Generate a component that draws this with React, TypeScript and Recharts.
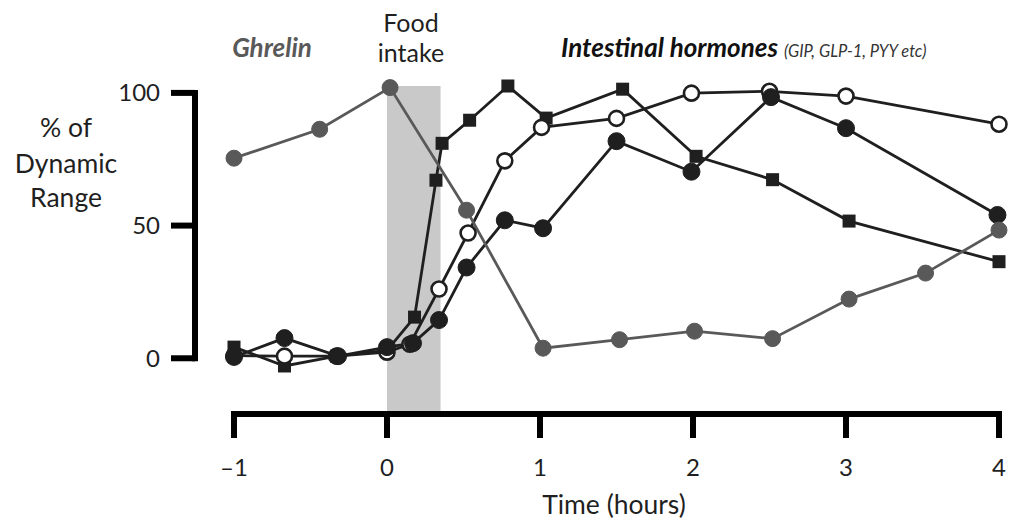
import { LineChart, Line, XAxis, YAxis, ReferenceArea, ReferenceLine, Customized } from 'recharts'

// time in hours relative to the meal, value in % of dynamic range
type Pt = { t: number; v: number }

const TIME_TICKS = [-1, 0, 1, 2, 3, 4]
const RANGE_TICKS = [0, 50, 100]
const FOOD_INTAKE: [number, number] = [0, 0.35]

const ghrelin: Pt[] = [
  { t: -1, v: 75.4 }, { t: -0.44, v: 86.3 }, { t: 0.02, v: 102 }, { t: 0.52, v: 55.8 },
  { t: 1.02, v: 3.8 }, { t: 1.52, v: 7.0 }, { t: 2.01, v: 10.2 }, { t: 2.52, v: 7.4 },
  { t: 3.02, v: 22.3 }, { t: 3.52, v: 32.1 }, { t: 4, v: 48.3 },
]

const squares: Pt[] = [
  { t: -1, v: 4.2 }, { t: -0.67, v: -2.9 }, { t: -0.33, v: 0.8 }, { t: 0, v: 3 },
  { t: 0.18, v: 15.5 }, { t: 0.32, v: 67.1 }, { t: 0.36, v: 81 }, { t: 0.54, v: 89.7 },
  { t: 0.79, v: 102.6 }, { t: 1.04, v: 90.5 }, { t: 1.54, v: 101.4 }, { t: 2.02, v: 76.1 },
  { t: 2.52, v: 67.3 }, { t: 3.02, v: 51.7 }, { t: 4, v: 36.4 },
]

const filled: Pt[] = [
  { t: -1, v: 0.5 }, { t: -0.67, v: 7.6 }, { t: -0.32, v: 0.8 }, { t: 0, v: 4.2 },
  { t: 0.17, v: 5.7 }, { t: 0.34, v: 14.4 }, { t: 0.52, v: 34.2 }, { t: 0.77, v: 52 },
  { t: 1.02, v: 49 }, { t: 1.5, v: 81.8 }, { t: 1.99, v: 70.3 }, { t: 2.51, v: 98.4 },
  { t: 3, v: 86.7 }, { t: 3.99, v: 54 },
]

const open: Pt[] = [
  { t: -1, v: 1 }, { t: -0.67, v: 0.8 }, { t: -0.33, v: 0.8 }, { t: 0, v: 2.3 },
  { t: 0.15, v: 5.3 }, { t: 0.34, v: 26.1 }, { t: 0.53, v: 47.2 }, { t: 0.77, v: 74.4 },
  { t: 1.01, v: 87 }, { t: 1.5, v: 90.4 }, { t: 1.99, v: 99.9 }, { t: 2.5, v: 100.6 },
  { t: 3, v: 98.8 }, { t: 4, v: 88.2 },
]

const INK = '#1f1f1f'
const GREY = '#595959'
const FONT = 'Lato, "Open Sans", sans-serif'

const W = 1011
const H = 522
const PAD_LEFT = 39 // gap between the y-axis line and the first time tick
const PX_PER_HOUR = 153
const AXIS_X = -1 - PAD_LEFT / PX_PER_HOUR
const LINE_W = 2.8

function SquareDot(props: { cx?: number; cy?: number; index?: number }) {
  const { cx, cy } = props
  if (cx == null || cy == null) return <g />
  return <rect x={cx - 6.5} y={cy - 6.5} width={13} height={13} fill={INK} />
}

function Annotations() {
  return (
    <g fontFamily={FONT}>
      <text x={272} y={57} textAnchor="middle" fontSize={26} fontWeight={700} fontStyle="italic" fill={GREY}>
        Ghrelin
      </text>
      <text x={411} textAnchor="middle" fontSize={25} fill={INK}>
        <tspan x={411} y={32}>Food</tspan>
        <tspan x={411} y={62}>intake</tspan>
      </text>
      <text x={561} y={57} fontSize={26} fontWeight={700} fontStyle="italic" fill="#111">
        Intestinal hormones
        <tspan dx={6} fontSize={16.5} fontWeight={400} fill="#333">(GIP, GLP-1, PYY etc)</tspan>
      </text>
      <text x={66} textAnchor="middle" fontSize={26.5} fill={INK}>
        <tspan x={66} y={137}>% of</tspan>
        <tspan x={66} y={173}>Dynamic</tspan>
        <tspan x={66} y={207}>Range</tspan>
      </text>
      <text x={614} y={514} textAnchor="middle" fontSize={26.5} fill={INK}>
        Time (hours)
      </text>
    </g>
  )
}

export default function App() {
  const tick = { fontSize: 24, fill: INK, fontFamily: FONT }
  return (
    <div style={{ position: 'absolute', left: 0, top: 0, width: W, height: H, background: '#fff' }}>
      <LineChart width={W} height={H} margin={{ top: 86, right: 12, bottom: 0, left: 0 }}>
        <XAxis
          type="number" dataKey="t" domain={[-1, 4]} ticks={TIME_TICKS} interval={0}
          padding={{ left: PAD_LEFT, right: 0 }} allowDuplicatedCategory={false}
          axisLine={false} tickLine={{ stroke: '#000', strokeWidth: 6 }}
          tickSize={24} tickMargin={21} height={108} tick={tick}
          tickFormatter={(t: number) => (t < 0 ? `–${-t}` : String(t))}
        />
        <YAxis
          type="number" domain={[-21, 102.6]} ticks={RANGE_TICKS} interval={0} width={195}
          axisLine={false} tickLine={{ stroke: '#000', strokeWidth: 6 }}
          tickSize={24} tickMargin={11} tick={tick}
        />
        <ReferenceArea x1={FOOD_INTAKE[0]} x2={FOOD_INTAKE[1]} fill="#c9c9c9" fillOpacity={1} stroke="none" />
        {/* split axes: y line covers 0–100 only, x line runs tick to tick */}
        <ReferenceLine
          segment={[{ x: AXIS_X, y: -1.13 }, { x: AXIS_X, y: 101.13 }]}
          stroke="#000" strokeWidth={6} ifOverflow="visible"
        />
        <ReferenceLine
          segment={[{ x: -1 - 3 / PX_PER_HOUR, y: -21 }, { x: 4 + 3 / PX_PER_HOUR, y: -21 }]}
          stroke="#000" strokeWidth={6} ifOverflow="visible"
        />
        <Line
          data={squares} dataKey="v" type="linear" stroke={INK} strokeWidth={LINE_W}
          dot={SquareDot} activeDot={false} isAnimationActive={false}
        />
        <Line
          data={open} dataKey="v" type="linear" stroke={INK} strokeWidth={LINE_W}
          dot={{ r: 7.5, fill: '#fff', stroke: INK, strokeWidth: 2.6 }} activeDot={false} isAnimationActive={false}
        />
        <Line
          data={filled} dataKey="v" type="linear" stroke={INK} strokeWidth={LINE_W}
          dot={{ r: 8.5, fill: INK, stroke: INK, strokeWidth: 1 }} activeDot={false} isAnimationActive={false}
        />
        <Line
          data={ghrelin} dataKey="v" type="linear" stroke={GREY} strokeWidth={LINE_W}
          dot={{ r: 8, fill: GREY, stroke: GREY, strokeWidth: 1 }} activeDot={false} isAnimationActive={false}
        />
        <Customized component={Annotations} />
      </LineChart>
    </div>
  )
}
